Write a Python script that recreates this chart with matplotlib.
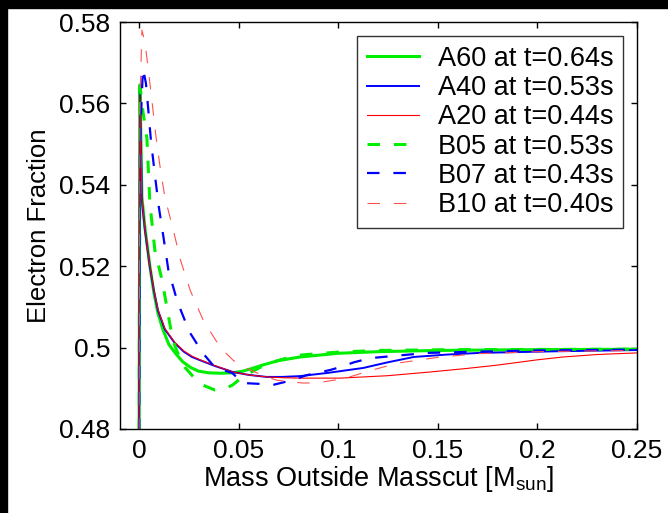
import numpy as np
import matplotlib
matplotlib.use("Agg")
import matplotlib.pyplot as plt
from matplotlib.patches import Rectangle

plt.rcParams['font.family'] = ['Liberation Sans', 'DejaVu Sans']
plt.rcParams['mathtext.fontset'] = 'custom'
plt.rcParams['mathtext.rm'] = 'Liberation Sans'
plt.rcParams['lines.scale_dashes'] = False

# curve values: (mass outside masscut, electron fraction)
a60_x = [0.0, 0.0005, 0.0015, 0.003, 0.0055, 0.0075, 0.0095, 0.012, 0.015, 0.0185,
         0.022, 0.026, 0.03, 0.035, 0.041, 0.047, 0.052, 0.057, 0.062, 0.07, 0.081,
         0.1, 0.12, 0.15, 0.2, 0.25]
a60_y = [0.46, 0.5645, 0.537, 0.5295, 0.52, 0.5135, 0.5085, 0.5045, 0.5008, 0.4985,
         0.4965, 0.4951, 0.4942, 0.4938, 0.4937, 0.4938, 0.4942, 0.4949, 0.4957, 0.4968,
         0.4977, 0.4986, 0.499, 0.4993, 0.4995, 0.4996]

a40_x = [0.0, 0.0005, 0.0015, 0.003, 0.0055, 0.0075, 0.0095, 0.013, 0.018, 0.0225,
         0.0266, 0.0307, 0.038, 0.0472, 0.055, 0.064, 0.072, 0.081, 0.095, 0.1126,
         0.125, 0.138, 0.155, 0.171, 0.21, 0.25]
a40_y = [0.46, 0.5645, 0.5362, 0.529, 0.5198, 0.514, 0.5092, 0.5045, 0.5011, 0.499,
         0.4977, 0.4969, 0.4955, 0.494, 0.4933, 0.4928, 0.4928, 0.493, 0.4938, 0.495,
         0.4964, 0.4977, 0.4983, 0.4987, 0.4991, 0.4994]

a20_x = [0.0, 0.0005, 0.0015, 0.003, 0.0055, 0.0075, 0.0095, 0.013, 0.018, 0.0225,
         0.0266, 0.0307, 0.038, 0.0472, 0.055, 0.064, 0.072, 0.081, 0.101, 0.125,
         0.146, 0.165, 0.18, 0.2, 0.213, 0.23, 0.25]
a20_y = [0.46, 0.562, 0.5365, 0.5292, 0.52, 0.5142, 0.5094, 0.5047, 0.5013, 0.4992,
         0.4979, 0.497, 0.4956, 0.494, 0.4933, 0.4928, 0.4926, 0.4925, 0.4925, 0.4931,
         0.494, 0.4949, 0.4957, 0.497, 0.4977, 0.4983, 0.4987]

b05_x = [0.0, 0.0005, 0.002, 0.004, 0.0055, 0.008, 0.0116, 0.014, 0.017, 0.02,
         0.023, 0.027, 0.032, 0.038, 0.043, 0.047, 0.052, 0.061, 0.067, 0.076, 0.082,
         0.1, 0.12, 0.16, 0.25]
b05_y = [0.46, 0.5645, 0.558, 0.5515, 0.5355, 0.5239, 0.5166, 0.51, 0.5018, 0.498,
         0.4952, 0.493, 0.4908, 0.4896, 0.4899, 0.4908, 0.4928, 0.4952, 0.4964, 0.4977,
         0.4982, 0.4989, 0.4993, 0.4995, 0.4996]

b07_x = [0.0, 0.0005, 0.002, 0.0035, 0.0046, 0.006, 0.008, 0.01, 0.0123, 0.0148,
         0.0193, 0.0253, 0.032, 0.038, 0.047, 0.052, 0.06, 0.067, 0.077, 0.084, 0.096,
         0.101, 0.108, 0.116, 0.129, 0.145, 0.17, 0.2, 0.25]
b07_y = [0.46, 0.55, 0.5686, 0.565, 0.559, 0.551, 0.5425, 0.5345, 0.5272, 0.519,
         0.5113, 0.5039, 0.4987, 0.4952, 0.4937, 0.4913, 0.4911, 0.4908, 0.492, 0.4932,
         0.4945, 0.4952, 0.4964, 0.4974, 0.498, 0.4987, 0.499, 0.4993, 0.4995]

b10_x = [0.0, 0.0005, 0.0015, 0.003, 0.0045, 0.0065, 0.0083, 0.0105, 0.013, 0.0173,
         0.0208, 0.0258, 0.0323, 0.041, 0.0475, 0.0545, 0.062, 0.069, 0.082, 0.089,
         0.103, 0.118, 0.13, 0.15, 0.17, 0.2, 0.25]
b10_y = [0.46, 0.56, 0.578, 0.575, 0.5692, 0.5608, 0.5528, 0.5448, 0.537, 0.5288,
         0.5216, 0.514, 0.5067, 0.4999, 0.4968, 0.4948, 0.4932, 0.492, 0.4913, 0.4913,
         0.4924, 0.4946, 0.4962, 0.4976, 0.4985, 0.499, 0.4993]

labels = ["A60 at t=0.64s", "A40 at t=0.53s", "A20 at t=0.44s",
          "B05 at t=0.53s", "B07 at t=0.43s", "B10 at t=0.40s"]

x_ticks = [0, 0.05, 0.1, 0.15, 0.2, 0.25]
x_tick_labels = ["0", "0.05", "0.1", "0.15", "0.2", "0.25"]
y_ticks = [0.48, 0.5, 0.52, 0.54, 0.56, 0.58]
y_tick_labels = ["0.48", "0.5", "0.52", "0.54", "0.56", "0.58"]

fig = plt.figure(figsize=(6.68, 5.13), dpi=100)
fig.patch.set_facecolor('white')
ax = fig.add_axes([120 / 668, 84 / 513, 517 / 668, 407 / 513])

dash = (9, 10)
ax.plot(a60_x, a60_y, color='#00ee00', lw=2.2, label=labels[0])
ax.plot(a40_x, a40_y, color='#0000ff', lw=1.4, label=labels[1])
ax.plot(a20_x, a20_y, color='#ff0000', lw=0.8, label=labels[2])
ax.plot(b05_x, b05_y, color='#00ee00', lw=2.2, dashes=dash, label=labels[3])
ax.plot(b07_x, b07_y, color='#0000ff', lw=1.6, dashes=dash, label=labels[4])
ax.plot(b10_x, b10_y, color='#ff5050', lw=0.8, dashes=dash, label=labels[5])

ax.set_xlim(-0.0095, 0.25)
ax.set_ylim(0.48, 0.58)
ax.set_xticks(x_ticks)
ax.set_xticklabels(x_tick_labels)
ax.set_yticks(y_ticks)
ax.set_yticklabels(y_tick_labels)
ax.tick_params(direction='in', length=4, width=1, labelsize=19, top=True, right=True, pad=7)
for sp in ax.spines.values():
    sp.set_linewidth(1)

ax.set_xlabel(r'Mass Outside Masscut [M$_\mathregular{sun}$]', fontsize=19.5, labelpad=1)
ax.set_ylabel('Electron Fraction', fontsize=18.5, labelpad=6)

leg = ax.legend(loc='upper right', fontsize=19.5, frameon=True, fancybox=False,
                edgecolor='black', handlelength=1.9, handletextpad=0.7,
                labelspacing=0.12, borderpad=0.38, borderaxespad=0.5)
leg.get_frame().set_linewidth(1)

# black screenshot border on the left and top
fig.patches.append(Rectangle((0, 0), 7 / 668, 1, transform=fig.transFigure,
                             color='black', zorder=10))
fig.patches.append(Rectangle((0, 1 - 8 / 513), 1, 8 / 513, transform=fig.transFigure,
                             color='black', zorder=10))

fig.savefig('out.png', dpi=100, facecolor=fig.get_facecolor())
